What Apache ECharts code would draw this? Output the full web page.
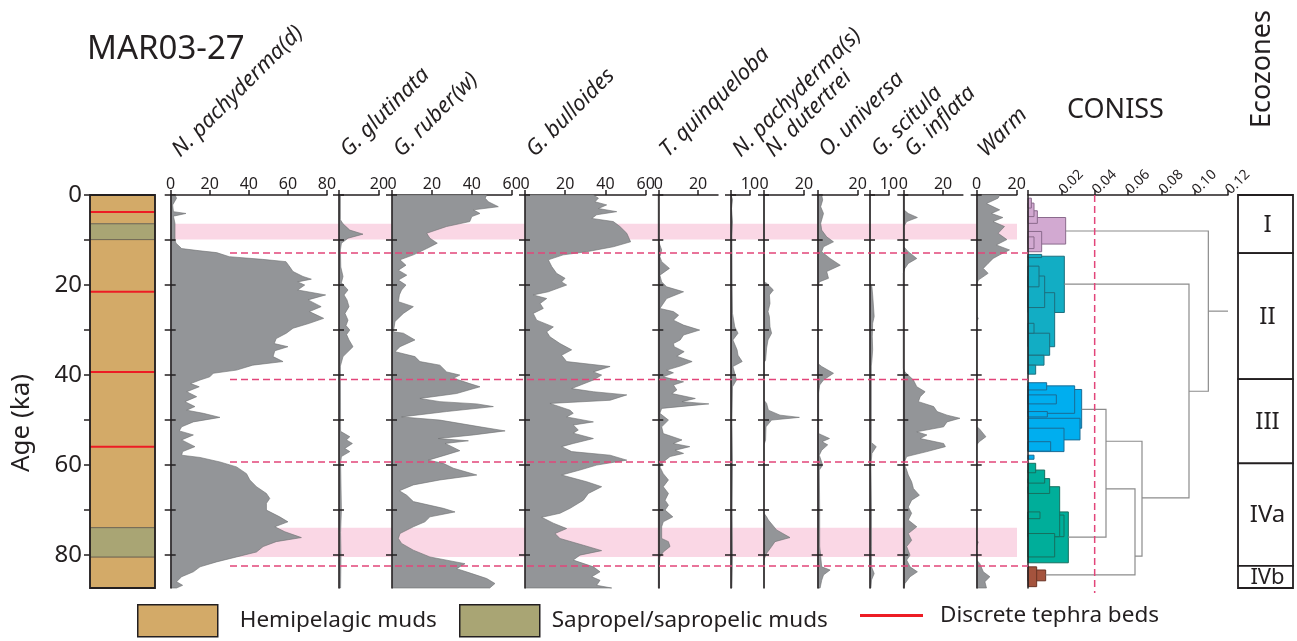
<!DOCTYPE html>
<html>
<head>
<meta charset="UTF-8">
<title>MAR03-27</title>
<style>html,body{margin:0;padding:0;background:#fff}#chart{width:1297px;height:641px;}</style>
</head>
<body>
<div id="chart"></div>
<script src="https://cdn.jsdelivr.net/npm/echarts@6.0.0/dist/echarts.min.js"></script>
<script>
// ---- data ----
var ageMax = 87.3;
var ageTicks = [0, 10, 20, 30, 40, 50, 60, 70, 80];
var ageLabels = [0, 20, 40, 60, 80];

// lithology (ka)
var hemipelagic = [[0, 6.4], [9.9, 73.9], [80.4, 87.3]];
var sapropel = [[6.4, 9.9], [73.9, 80.4]];
var tephra = [3.8, 21.5, 39.3, 55.9];

// sapropel bands and ecozone boundaries
var bands = [[6.4, 9.9], [73.9, 80.4]];
var zoneLines = [12.9, 41.0, 59.3, 82.4];
var ecozoneNames = ['I', 'II', 'III', 'IVa', 'IVb'];
var ecozoneTops = [0, 12.9, 40.9, 59.6, 82.4];
var ecozoneBottoms = [12.9, 40.9, 59.6, 82.4, 87.3];

// species percentages [age, %]
var npachD = [[0,2.2],[0.7,3],[2.2,1],[3.7,1.4],[4.1,7.8],[4.7,1.4],[6.3,2.2],[10,2.2],[10.7,2.7],[11.9,5.6],[12.4,15],[12.8,23.5],[13.7,30],[14.3,47],[14.8,59],[16,61],[17,62.6],[18.1,67.7],[18.7,72],[19.3,65],[20,68.6],[21.1,65],[22.2,79.3],[23.3,70.3],[24.8,77],[25.9,71],[27.4,78.3],[28.5,71],[29.6,62.6],[30.7,59.2],[31.9,54],[33,53],[33.7,60],[34.6,53.3],[35.9,52.4],[37,57.5],[37.8,42],[38.9,33.7],[39.6,21.8],[40.4,20],[41.1,15],[41.9,10.2],[42.6,14.6],[43.7,8.2],[44.8,13.3],[45.9,7.3],[47,12.4],[47.8,8.2],[48.5,16.7],[49.4,25.2],[50.4,11.6],[51.5,5.6],[52.4,4.4],[53.3,11.6],[54.4,5.6],[55.9,12.4],[57,6.1],[57.8,5.6],[58.3,15],[59.3,25.2],[60.4,33.7],[61.9,38.8],[63.3,40.5],[64.8,43.9],[66.3,49],[67.4,50.7],[68.5,49],[70,49],[71.5,55.8],[72.6,60],[73.7,53.3],[74.8,58.4],[76.1,66.9],[77,54],[78.1,47.3],[79.3,43.9],[80.4,33.7],[81.5,23.5],[82.6,15],[83.7,11.6],[84.8,5.6],[85.9,3],[86.7,6.1],[87.3,3]];
var gGlut = [[0,0.7],[5.5,0.7],[6.4,2],[7.8,5.4],[8.7,12],[9.6,4.5],[10.7,1.2],[12.2,0.7],[16,0.9],[18.1,2],[19.5,1.2],[21.1,4.5],[22.2,2.5],[23.3,4],[24.8,5],[26.3,3],[27.8,4.5],[29,3.5],[30,5.4],[31,3.8],[32.2,5],[33.7,7],[35.9,2],[38,0.7],[52.5,0.8],[53.7,5.4],[54.4,3.7],[55.2,6.7],[56.3,2.9],[57,5.4],[58.1,1.2],[59.5,0.8],[70,1.2],[75,0.8],[80,1],[87.3,0.8]];
var gRuber = [[0,47.5],[0.7,46.7],[1.5,48.3],[2.6,53.3],[3.3,40.8],[4.1,44.1],[4.8,40],[5.9,39],[7,27.4],[8.5,17.4],[9.6,19],[10.7,22.7],[11.9,17.4],[13.3,10.7],[14.4,4],[15.6,7],[16.7,3.2],[17.8,7.4],[18.9,3.2],[20,7],[21.1,4.8],[22.2,3.7],[23.7,3.2],[24.8,10.7],[26.3,5.7],[28.1,1.5],[30.4,0.7],[30.7,5.7],[32.2,11.5],[33.7,4],[34.8,1.5],[35.9,11.5],[37,14],[37.8,24],[39.3,27.4],[40,34],[40.7,30.8],[41.9,39],[42.6,44.1],[44.1,32.4],[45.2,14],[45.9,24],[46.4,42.5],[47,50.8],[48.1,27.4],[49.3,4.8],[50,24],[51.5,44.1],[52.4,56.7],[53.3,40.8],[54.1,23.2],[54.6,38.3],[55.2,26.6],[55.9,30],[56.8,34],[57.8,26.6],[58.9,18.2],[59.6,25.7],[60.7,30.8],[62.2,42.5],[63.3,24],[64.4,10.7],[65.7,3.7],[66.7,7.4],[68.1,10.7],[69.6,25.7],[70.4,31.6],[71.5,19],[72.6,16.5],[73.7,10.7],[75.2,4],[76.3,3.2],[77.4,4.8],[78.9,10.7],[80.4,19],[81.9,36.6],[83,32.4],[84.1,40],[85.2,47.5],[86.3,51.6],[87.3,49]];
var gBull = [[0,34],[0.7,36.5],[1.5,34.8],[2.2,40.6],[3,36.5],[3.7,45.6],[4.4,35.6],[5.2,33.2],[5.9,43.9],[7,47.2],[8.5,50.6],[10.4,52.5],[11.5,43.9],[12.6,30.7],[13.3,19],[14.4,11.6],[15.9,13.3],[17.4,15.7],[18.5,19.9],[19.3,18.2],[20,20.7],[21.5,11.6],[22.2,4.1],[23,10.8],[24.1,7.5],[25.2,9.1],[26.3,4.1],[27.8,5.8],[29.3,14.1],[30.4,10.8],[31.5,12.4],[33,17.4],[34.4,23.2],[35.6,18.2],[37,20.7],[38.1,42.3],[39.3,34],[40,38.1],[41.1,34],[43,23.2],[43.7,34],[44.4,50.6],[45.6,42.3],[46.3,12.4],[47.8,22.4],[48.5,24],[49.3,20.7],[50.4,34],[51.1,24],[52.2,26.5],[52.9,24],[54.1,34],[55.2,24],[55.9,18.2],[57,23.2],[57.8,42.3],[58.9,50.6],[60,35.6],[61.1,27.3],[62.2,18.2],[63.7,30.7],[64.8,38.1],[66.3,31.5],[67.8,29],[69.6,22.4],[70.7,17.4],[71.6,8.3],[72.9,14.1],[74.1,20.7],[75.2,14.9],[76.3,17.4],[77.8,29],[79,38.1],[80,27.3],[81.1,24],[82.6,34],[83.7,37.3],[84.8,33.2],[85.6,37.3],[86.7,35.6],[87.3,43.1]];
var tQuin = [[0,0],[10,0],[11.1,0.8],[12.2,1.7],[13.7,0.8],[14.8,1.7],[16.3,5.6],[17.8,0.8],[19.3,1.7],[20.4,4.2],[21.5,12.7],[23,4.2],[25.2,0.8],[25.9,7.6],[26.7,10.2],[27.8,7.6],[28.9,12.7],[30,20.8],[31.1,12.7],[32.2,11],[33,7.6],[33.7,8],[34.8,13],[35.8,9.3],[37,17],[38,11],[38.9,4.2],[39.5,7.6],[40.4,2.5],[41.5,12.7],[42.2,7.6],[43.3,9.3],[44.1,6.8],[45.2,18.6],[45.9,11.9],[46.4,25.4],[47.4,1.7],[48.5,0.8],[50,5.1],[51.5,1.7],[53,2.5],[54.4,11.9],[55.2,7.6],[55.9,15.8],[56.7,8.5],[57.4,12.7],[58.1,5.9],[59.3,2.5],[60.4,0.8],[61.9,2.5],[63.3,5.1],[64.8,2.5],[66.3,5.1],[67.8,3.4],[68.9,5.1],[70,3.4],[71.5,7.3],[72.6,2.5],[73.7,1.7],[76.3,1.7],[77,5.1],[78.1,5.9],[79.3,2.5],[80.4,0.8],[81.9,0.5],[87.3,0.5]];
var nPachS = [[0,0],[1,0.8],[3,0.3],[6,0.8],[9,0.5],[20,0.6],[26.3,0.8],[29.3,2],[30.7,3.7],[32.2,1],[34.4,3.2],[35.6,3.7],[37,5.9],[38.1,1],[41.1,2.9],[42.6,0.8],[50,0.5],[60,0.8],[70,0.6],[80,0.8],[87.3,0.5]];
var nDut = [[0,0],[19.3,0],[19.6,1.3],[21.1,4.7],[22.2,2.7],[24.1,3],[25.9,2],[27,2.7],[29.3,3],[30.7,3.8],[32.2,2],[34,1.3],[36.7,0.8],[37.2,0],[45.6,0],[46.3,1.3],[47.8,2.2],[48.9,8],[49.4,17.7],[50,3.8],[51.5,1],[54.4,0.8],[55.5,0],[70.7,0],[71.5,1.3],[72.2,2.2],[74.4,6.3],[76.1,13],[77,5.5],[78.1,3.8],[79.6,1.3],[81,0],[87.3,0]];
var oUniv = [[0,2],[1.1,2.5],[2.6,1.5],[4.1,2.9],[6.3,1.5],[7.8,2],[9.3,4.5],[10.4,7.9],[11.5,2.9],[12.6,2],[14.1,6.2],[15.6,11.3],[17,4.5],[18.5,5.4],[19.3,0.8],[20.4,0.3],[37.5,0.3],[38.1,2],[39.6,7.9],[41.1,2.9],[42.2,1],[44,0.5],[53,0.5],[53.3,2],[54.1,5.9],[54.8,2.2],[55.5,5],[56.7,2],[57.8,0.8],[60,2.5],[61.1,0.8],[70,1],[78,1],[82.6,2],[83.3,6.2],[84.4,2.9],[85.6,2],[87.3,1.2]];
var gScit = [[0,0],[19.5,0],[20.4,1],[22.2,1.4],[27,2.2],[28.5,1.4],[31.5,1.2],[34.4,1.4],[36.7,1],[38,0.7],[55,0.7],[55.9,3.3],[57.4,1],[60,0.5],[70,0.8],[78,0.8],[82.6,0.8],[84.1,2.2],[85.5,0.8],[87.3,0.5]];
var gInfl = [[0,0.3],[3.3,0.3],[4.1,2.5],[5,7.1],[5.9,1.7],[7,0.3],[11.5,0.3],[12.6,2.5],[14.1,6.8],[15.2,2.5],[16.3,0.8],[17.4,0],[38.5,0],[39.3,0.8],[41.1,5.1],[42.6,6.8],[43.7,11],[44.8,8.5],[45.9,7.6],[47,15.3],[48.1,17],[48.9,22],[49.6,28.5],[50.4,22],[51.5,20.3],[52.6,6.8],[53.3,11.9],[54.1,8.5],[55.2,20.3],[55.9,21.2],[57,11.9],[58.1,1.7],[59.6,0.3],[61.1,1.7],[62.2,2.5],[63.7,4.2],[65.2,5.1],[66.7,8.1],[67.8,4.2],[69.3,2.5],[70.7,4.2],[72.2,2.5],[73.7,6.8],[75.2,2.5],[76.7,4.2],[78.1,1.7],[80,3.4],[81.1,1.7],[82.6,3.4],[83.7,7.1],[84.8,3.4],[86.3,0.8],[87.3,0.3]];
var warm = [[0,11.5],[0.7,10.7],[1.9,4.9],[3.3,11.5],[4.1,7.4],[5,13.1],[5.9,8.2],[7,13.9],[8.5,10.7],[9.9,15.1],[11.1,9.8],[12.2,16.4],[13.3,11.5],[14.1,8.2],[15.2,5.7],[16.3,3.3],[17.4,5.7],[18.9,0.8],[19.6,0.2],[27,0.2],[27.4,0.8],[28,0.1],[51.5,0],[51.9,1.3],[53.7,4.6],[54.8,1.3],[55.5,0],[76.7,0],[77.1,0.8],[78,0],[81.1,0],[81.9,1.6],[83.7,3.3],[84.8,6.6],[85.9,4.1],[87.3,4.9]];

var taxa = ['N. pachyderma(d)', 'G. glutinata', 'G. ruber(w)', 'G. bulloides', 'T. quinqueloba', 'N. pachyderma(s)', 'N. dutertrei', 'O. universa', 'G. scitula', 'G. inflata', 'Warm'];
var taxaData = [npachD, gGlut, gRuber, gBull, tQuin, nPachS, nDut, oUniv, gScit, gInfl, warm];
var taxaMax = [80, 20, 60, 60, 30, 10, 20, 20, 10, 30, 20];
var taxaTicks = [[0,20,40,60,80],[0,20],[0,20,40,60],[0,20,40,60],[0,20],[0,10],[0,20],[0,20],[0,10],[0,20],[0,20]];
var taxaLabels = [[0,20,40,60,80],[20],[0,20,40,60],[0,20,40,60],[0,20],[10],[0,20],[20],[10],[0,20],[0,20]];

// CONISS: cluster boxes [dissimilarity, top age, bottom age]
var conissI = [[0.0226,5.0,10.9],[0.0082,8.1,12.6],[0.0056,3.5,6.3],[0.0036,1.8,4.8],[0.002,0.7,2.9],[0.0036,9.3,11.9]];
var conissII = [[0.0218,13.6,26.1],[0.016,21.7,33.7],[0.013,30.7,35.6],[0.0096,35.6,37.8],[0.0046,37.8,39.8],[0.0082,13.2,13.9],[0.01,18,25],[0.0066,15.8,20.4],[0.0036,28.5,30.7]];
var conissIII = [[0.0322,43.2,51.8],[0.0312,49.6,54.4],[0.028,42.4,48.5],[0.0216,51.8,57.0],[0.0112,41.7,43.3],[0.017,44.4,46.4],[0.0136,54.8,56.9],[0.0036,57.8,58.7],[0.0116,48.1,49.3]];
var conissIVa = [[0.0242,70.4,81.7],[0.019,64.8,75.9],[0.013,63.0,66.3],[0.01,61.1,64.0],[0.0046,59.6,61.7],[0.016,75.2,80.4],[0.0216,71.1,75.9],[0.0072,70.4,71.9]];
var conissIVb = [[0.0106,83.3,85.7],[0.0052,82.6,87.0]];
// dendrogram links [dissimilarity, age]
var conissLinks = [
  [[0.1082,25.8],[0.12,25.8]],
  [[0.0226,8.0],[0.1082,8.0],[0.1082,43.6],[0.0966,43.6]],
  [[0.0218,19.8],[0.0966,19.8],[0.0966,67.3],[0.0684,67.3]],
  [[0.0468,54.7],[0.0684,54.7],[0.0684,80.2],[0.0642,80.2]],
  [[0.0468,65.3],[0.0642,65.3],[0.0642,84.4],[0.0106,84.4]],
  [[0.0322,47.6],[0.0468,47.6],[0.0468,76.0],[0.0242,76.0]]
];
var conissCut = [0.04];

// ---- layout ----
var TOP = 195, H = 393;
var panelX = [[170.7,327],[339,379],[392,511.7],[525,645.7],[658.3,718],[731,750],[764,804],[817.7,857.7],[870,889],[903.3,962.9],[976.7,1016.7]];
var ink = '#231f20';
var FONT = 'Noto Sans';
var clusterFill = ['#d2a9d1', '#12adc4', '#00aeef', '#00ae9a', '#a4533d'];
var clusterStroke = ['#8a6a8c', '#1d6f7e', '#1a6c95', '#16705f', '#6a3324'];

var mychart = echarts.init(document.getElementById('chart'));

var grids = [], xAxes = [], yAxes = [], series = [], graphics = [];

function ageAxis(gi, extra) {
  var a = {gridIndex: gi, type: 'value', position: 'left', min: 0, max: ageMax, inverse: true,
    axisLine: {show: false}, axisTick: {show: false}, axisLabel: {show: false}, splitLine: {show: false}};
  for (var k in extra) a[k] = extra[k];
  return a;
}
function hiddenX(gi, max) {
  return {gridIndex: gi, type: 'value', min: 0, max: max, show: false, splitLine: {show: false}};
}

// grid 0: lithology
grids.push({left: 90, top: TOP, width: 65, height: H});
xAxes.push(hiddenX(0, 1));
yAxes.push(ageAxis(0, {
  axisTick: {show: true, customValues: ageTicks, length: 6, lineStyle: {color: ink, width: 1.5}},
  axisLabel: {show: true, customValues: ageLabels, fontSize: 24, color: ink, fontFamily: FONT, margin: 8}
}));

// grids 1..11: taxa
taxa.forEach(function (t, i) {
  var gi = i + 1;
  grids.push({left: panelX[i][0], top: TOP, width: panelX[i][1] - panelX[i][0], height: H});
  xAxes.push({gridIndex: gi, type: 'value', position: 'top', min: 0, max: taxaMax[i],
    axisLine: {lineStyle: {color: ink, width: 1.5}},
    axisTick: {customValues: taxaTicks[i], length: 5, lineStyle: {color: ink, width: 1.5}},
    axisLabel: {customValues: taxaLabels[i], fontSize: 16, color: ink, fontFamily: FONT, margin: 3},
    splitLine: {show: false}});
});
taxa.forEach(function (t, i) {
  yAxes.push(ageAxis(i + 1, {z: 5,
    axisLine: {show: true, lineStyle: {color: ink, width: 1.5}},
    axisTick: {show: true, inside: true, customValues: ageTicks, length: 5, lineStyle: {color: ink, width: 1.5}}}));
});

// grid 12: CONISS
grids.push({left: 1028, top: TOP, width: 200, height: H});
xAxes.push({gridIndex: 12, type: 'value', position: 'top', min: 0, max: 0.12, interval: 0.02,
  axisLine: {lineStyle: {color: ink, width: 1.5}},
  axisTick: {length: 5, lineStyle: {color: ink, width: 1.5}},
  axisLabel: {rotate: 45, fontSize: 14, color: ink, fontFamily: FONT, margin: 3,
    formatter: function (v) { return v === 0 ? '' : v.toFixed(2); }},
  splitLine: {show: false}});
yAxes.push(ageAxis(12, {z: 5, axisLine: {show: true, lineStyle: {color: ink, width: 1.5}}}));

// grid 13: ecozones
grids.push({left: 1238, top: TOP, width: 55, height: H});
xAxes.push(hiddenX(13, 1));
yAxes.push(ageAxis(13, {}));

// grid 14: overlay for bands and boundaries
grids.push({left: 170, top: TOP, width: 858, height: H});
xAxes.push(hiddenX(14, 1));
yAxes.push(ageAxis(14, {}));

// second age axes on the same left edge: outer half of the crossing ticks
taxa.forEach(function (t, i) {
  yAxes.push(ageAxis(i + 1, {z: 5, offset: 0,
    axisTick: {show: true, inside: false, customValues: ageTicks, length: 6, lineStyle: {color: ink, width: 1.5}}}));
});

// lithology series
function intervalSeries(name, data, fill) {
  return {name: name, type: 'custom', xAxisIndex: 0, yAxisIndex: 0, data: data,
    itemStyle: {color: fill},
    renderItem: function (params, api) {
      var p0 = api.coord([0, api.value(0)]), p1 = api.coord([1, api.value(1)]);
      return {type: 'rect', shape: {x: p0[0], y: p0[1], width: p1[0] - p0[0], height: p1[1] - p0[1]},
        style: {fill: fill, stroke: '#6b6150', lineWidth: 0.8}};
    }};
}
series.push(intervalSeries('Hemipelagic muds', hemipelagic, '#d3aa68'));
series.push(intervalSeries('Sapropel/sapropelic muds', sapropel, '#a9a574'));
series.push({name: 'Discrete tephra beds', type: 'custom', xAxisIndex: 0, yAxisIndex: 0,
  data: tephra.map(function (a) { return [0, a]; }), itemStyle: {color: '#ed1c24'},
  renderItem: function (params, api) {
    var p0 = api.coord([0, api.value(1)]), p1 = api.coord([1, api.value(1)]);
    return {type: 'line', shape: {x1: p0[0], y1: p0[1], x2: p1[0], y2: p1[1]},
      style: {stroke: '#ed1c24', lineWidth: 2}};
  }});
series.push({name: 'frame', type: 'custom', xAxisIndex: 0, yAxisIndex: 0, data: [[0, ageMax]],
  renderItem: function (params, api) {
    var p0 = api.coord([0, 0]), p1 = api.coord([1, api.value(1)]);
    return {type: 'rect', shape: {x: p0[0], y: p0[1], width: p1[0] - p0[0], height: p1[1] - p0[1]},
      style: {fill: 'none', stroke: ink, lineWidth: 1.8}};
  }});

// pink sapropel bands behind the curves
series.push({type: 'custom', xAxisIndex: 14, yAxisIndex: 14, z: 1, data: bands, silent: true,
  renderItem: function (params, api) {
    var y0 = api.coord([0, api.value(0)])[1], y1 = api.coord([0, api.value(1)])[1];
    return {type: 'rect', shape: {x: 175, y: y0, width: 1017 - 175, height: y1 - y0},
      style: {fill: '#fad7e5'}};
  }});

// taxa curves as filled profiles
taxa.forEach(function (t, i) {
  var pts = taxaData[i];
  series.push({name: t, type: 'custom', xAxisIndex: i + 1, yAxisIndex: i + 1, z: 2,
    data: pts.map(function (p) { return [p[1], p[0]]; }),
    renderItem: function (params, api) {
      if (params.dataIndex !== 0) return null;
      var poly = [api.coord([0, pts[0][0]])];
      pts.forEach(function (p) { poly.push(api.coord([p[1], p[0]])); });
      poly.push(api.coord([0, pts[pts.length - 1][0]]));
      return {type: 'polygon', shape: {points: poly},
        style: {fill: '#939598', stroke: '#6d6e71', lineWidth: 0.6}};
    }});
});

// zone boundaries (dashed)
series.push({type: 'custom', xAxisIndex: 14, yAxisIndex: 14, z: 6, silent: true,
  data: zoneLines.map(function (a) { return [0, a]; }),
  renderItem: function (params, api) {
    var y = api.coord([0, api.value(1)])[1];
    return {type: 'line', shape: {x1: 230, y1: y, x2: 1028, y2: y},
      style: {stroke: '#e2457a', lineWidth: 1.5, lineDash: [7, 4]}};
  }});

// CONISS clusters
var clusters = [conissI, conissII, conissIII, conissIVa, conissIVb];
var clusterData = [];
clusters.forEach(function (c, ci) {
  c.slice().sort(function (a, b) { return b[0] - a[0]; }).forEach(function (r) {
    clusterData.push([r[0], r[1], r[2], ci]);
  });
});
series.push({type: 'custom', xAxisIndex: 12, yAxisIndex: 12, z: 2, data: clusterData,
  renderItem: function (params, api) {
    var c = api.value(3);
    var p0 = api.coord([0, api.value(1)]), p1 = api.coord([api.value(0), api.value(2)]);
    return {type: 'rect', shape: {x: p0[0], y: p0[1], width: p1[0] - p0[0], height: p1[1] - p0[1]},
      style: {fill: clusterFill[c], stroke: clusterStroke[c], lineWidth: 1}};
  }});
series.push({type: 'custom', xAxisIndex: 12, yAxisIndex: 12, z: 2,
  data: conissLinks.map(function (l) { return [l[0][0], l[0][1]]; }),
  renderItem: function (params, api) {
    var pts = conissLinks[params.dataIndex].map(function (p) { return api.coord(p); });
    return {type: 'polyline', shape: {points: pts}, style: {stroke: '#8c8c8c', lineWidth: 1.2, fill: 'none'}};
  }});
series.push({type: 'custom', xAxisIndex: 12, yAxisIndex: 12, z: 6, silent: true, clip: false,
  data: conissCut.map(function (v) { return [v, 0]; }),
  renderItem: function (params, api) {
    var p0 = api.coord([api.value(0), 0]), p1 = api.coord([api.value(0), ageMax]);
    return {type: 'line', shape: {x1: p0[0], y1: p0[1], x2: p1[0], y2: p1[1] + 5},
      style: {stroke: '#e2457a', lineWidth: 1.5, lineDash: [7, 4]}};
  }});

// ecozones
series.push({type: 'custom', xAxisIndex: 13, yAxisIndex: 13, z: 2,
  data: ecozoneTops.map(function (t, i) { return [ecozoneTops[i], ecozoneBottoms[i]]; }),
  renderItem: function (params, api) {
    var p0 = api.coord([0, api.value(0)]), p1 = api.coord([1, api.value(1)]);
    return {type: 'group', children: [
      {type: 'rect', shape: {x: p0[0], y: p0[1], width: p1[0] - p0[0], height: p1[1] - p0[1]},
        style: {fill: '#fff', stroke: ink, lineWidth: 1.8}},
      {type: 'text', style: {text: ecozoneNames[params.dataIndex], x: (p0[0] + p1[0]) / 2 + 2, y: (p0[1] + p1[1]) / 2 + 1,
        fill: ink, fontSize: params.dataIndex === 4 ? 22 : 24, fontFamily: FONT, align: 'center', verticalAlign: 'middle'}}
    ]};
  }});

// titles
graphics.push({type: 'text', x: 87, y: 33, style: {text: 'MAR03-27', fill: ink, fontSize: 33, fontFamily: FONT}});
graphics.push({type: 'text', x: 1067, y: 97, style: {text: 'CONISS', fill: ink, fontSize: 27, fontFamily: FONT}});
graphics.push({type: 'text', x: 1262, y: 69, rotation: Math.PI / 2,
  style: {text: 'Ecozones', fill: ink, fontSize: 27, fontFamily: FONT, align: 'center', verticalAlign: 'middle'}});
graphics.push({type: 'text', x: 22, y: 423, rotation: Math.PI / 2,
  style: {text: 'Age (ka)', fill: ink, fontSize: 26, fontFamily: FONT, align: 'center', verticalAlign: 'middle'}});
taxa.forEach(function (t, i) {
  graphics.push({type: 'text', x: panelX[i][0] + 13, y: 161, rotation: Math.PI / 4,
    style: {text: t, fill: ink, fontSize: 22, fontStyle: 'italic', fontFamily: FONT, align: 'left', verticalAlign: 'bottom'}});
});

function legendAt(left, name, icon, w, color, border, gap) {
  return {left: left, top: 599, selectedMode: false, itemWidth: w, itemHeight: 32,
    textStyle: {fontSize: 22.5, color: ink, fontFamily: FONT, padding: [0, 0, 0, gap]},
    data: [{name: name, icon: icon, itemStyle: {color: color, borderColor: border, borderWidth: border ? 1.5 : 0}}]};
}

option = {
  backgroundColor: '#fff',
  animation: false,
  grid: grids,
  xAxis: xAxes,
  yAxis: yAxes,
  legend: [
    legendAt(132, 'Hemipelagic muds', 'rect', 80, '#d3aa68', ink, 17),
    legendAt(454, 'Sapropel/sapropelic muds', 'rect', 80, '#a9a574', ink, 7),
    legendAt(855, 'Discrete tephra beds', 'path://M0,0 L63,0 L63,3 L0,3 Z', 63, '#ed1c24', null, 12)
  ],
  graphic: graphics,
  series: series
};
mychart.setOption(option);
</script>
</body>
</html>
